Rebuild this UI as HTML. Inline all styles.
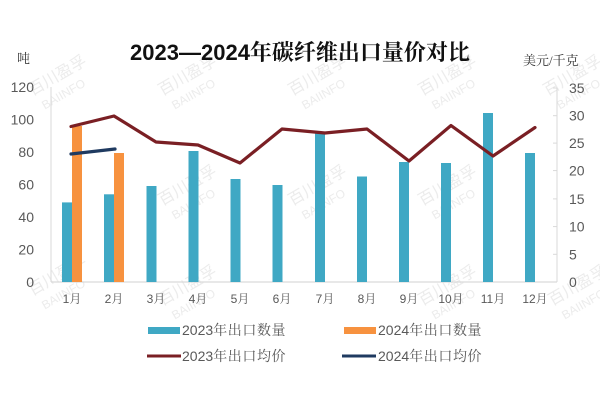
<!DOCTYPE html>
<html><head><meta charset="utf-8"><style>
html,body{margin:0;padding:0;background:#fff;}
svg{display:block;}
</style></head><body>
<svg width="600" height="400" viewBox="0 0 600 400" xmlns="http://www.w3.org/2000/svg">
<rect width="600" height="400" fill="#fff"/>
<!-- watermarks -->
<g fill="#ececec" font-family="'Liberation Sans','Noto Sans CJK SC',sans-serif">
  <g transform="translate(60,80) rotate(-30)"><text x="-32" y="0" font-size="16">百川盈孚</text><text x="-28" y="18" font-size="12">BAIINFO</text></g>
  <g transform="translate(190,80) rotate(-30)"><text x="-32" y="0" font-size="16">百川盈孚</text><text x="-28" y="18" font-size="12">BAIINFO</text></g>
  <g transform="translate(320,80) rotate(-30)"><text x="-32" y="0" font-size="16">百川盈孚</text><text x="-28" y="18" font-size="12">BAIINFO</text></g>
  <g transform="translate(450,80) rotate(-30)"><text x="-32" y="0" font-size="16">百川盈孚</text><text x="-28" y="18" font-size="12">BAIINFO</text></g>
  <g transform="translate(575,80) rotate(-30)"><text x="-32" y="0" font-size="16">百川盈孚</text><text x="-28" y="18" font-size="12">BAIINFO</text></g>
  <g transform="translate(60,280) rotate(-30)"><text x="-32" y="0" font-size="16">百川盈孚</text><text x="-28" y="18" font-size="12">BAIINFO</text></g>
  <g transform="translate(190,190) rotate(-30)"><text x="-32" y="0" font-size="16">百川盈孚</text><text x="-28" y="18" font-size="12">BAIINFO</text></g>
  <g transform="translate(320,190) rotate(-30)"><text x="-32" y="0" font-size="16">百川盈孚</text><text x="-28" y="18" font-size="12">BAIINFO</text></g>
  <g transform="translate(450,190) rotate(-30)"><text x="-32" y="0" font-size="16">百川盈孚</text><text x="-28" y="18" font-size="12">BAIINFO</text></g>
  <g transform="translate(190,290) rotate(-30)"><text x="-32" y="0" font-size="16">百川盈孚</text><text x="-28" y="18" font-size="12">BAIINFO</text></g>
  <g transform="translate(450,290) rotate(-30)"><text x="-32" y="0" font-size="16">百川盈孚</text><text x="-28" y="18" font-size="12">BAIINFO</text></g>
  <g transform="translate(580,290) rotate(-30)"><text x="-32" y="0" font-size="16">百川盈孚</text><text x="-28" y="18" font-size="12">BAIINFO</text></g>
</g>

<!-- title -->
<text x="300" y="60" text-anchor="middle" font-size="22" font-weight="bold" fill="#111" font-family="'Liberation Sans','Noto Serif CJK SC',serif">2023—2024年碳纤维出口量价对比</text>

<!-- axis unit labels -->
<text x="17" y="63" font-size="13" fill="#333" font-family="'Liberation Serif','Noto Serif CJK SC',serif">吨</text>
<text x="523" y="65" font-size="13" fill="#333" font-family="'Liberation Serif','Noto Serif CJK SC',serif">美元/千克</text>

<!-- axes -->
<line x1="51" y1="87" x2="51" y2="282" stroke="#d9d9d9" stroke-width="1"/>
<line x1="557" y1="88" x2="557" y2="282" stroke="#d9d9d9" stroke-width="1"/>
<line x1="51" y1="282" x2="557" y2="282" stroke="#d9d9d9" stroke-width="1.2"/>
<g stroke="#d9d9d9" stroke-width="1">
  <line x1="553" y1="88" x2="557" y2="88"/>
  <line x1="553" y1="115.7" x2="557" y2="115.7"/>
  <line x1="553" y1="143.1" x2="557" y2="143.1"/>
  <line x1="553" y1="170.6" x2="557" y2="170.6"/>
  <line x1="553" y1="198.9" x2="557" y2="198.9"/>
  <line x1="553" y1="226.6" x2="557" y2="226.6"/>
  <line x1="553" y1="254.3" x2="557" y2="254.3"/>
</g>

<!-- left labels -->
<g font-size="14" fill="#595959" font-family="'Liberation Sans',sans-serif" text-anchor="end">
  <text x="34" y="92">120</text>
  <text x="34" y="124.5">100</text>
  <text x="34" y="157">80</text>
  <text x="34" y="189.5">60</text>
  <text x="34" y="222">40</text>
  <text x="34" y="254.5">20</text>
  <text x="34" y="287">0</text>
</g>
<!-- right labels -->
<g font-size="14" fill="#595959" font-family="'Liberation Sans',sans-serif">
  <text x="569" y="93">35</text>
  <text x="569" y="120.7">30</text>
  <text x="569" y="148.1">25</text>
  <text x="569" y="175.6">20</text>
  <text x="569" y="203.9">15</text>
  <text x="569" y="231.6">10</text>
  <text x="569" y="259.3">5</text>
  <text x="569" y="287">0</text>
</g>

<!-- blue bars (2023 quantity) -->
<g fill="#3fa8c4">
  <rect x="62" y="202.4" width="10" height="79.6"/>
  <rect x="104" y="194.3" width="10" height="87.7"/>
  <rect x="146.5" y="186" width="10" height="96"/>
  <rect x="188.5" y="151" width="10" height="131"/>
  <rect x="230.5" y="179" width="10" height="103"/>
  <rect x="272.5" y="185" width="10" height="97"/>
  <rect x="315" y="133" width="10" height="149"/>
  <rect x="357" y="176.5" width="10" height="105.5"/>
  <rect x="399" y="162" width="10" height="120"/>
  <rect x="441" y="163" width="10" height="119"/>
  <rect x="483" y="113" width="10" height="169"/>
  <rect x="525" y="153" width="10" height="129"/>
</g>
<!-- orange bars (2024 quantity) -->
<g fill="#f7923f">
  <rect x="72" y="126" width="10" height="156"/>
  <rect x="114" y="153" width="10" height="129"/>
</g>

<!-- 2023 price line -->
<polyline fill="none" stroke="#7a1f24" stroke-width="3.2" stroke-linejoin="round" stroke-linecap="round"
  points="71,126.5 114,116 156,142 198,145 240,163 282,129 325,133 367,129 409,161 451,125.5 493,156 535,127.5"/>
<!-- 2024 price line -->
<polyline fill="none" stroke="#1f3a60" stroke-width="3.2" stroke-linecap="round"
  points="71,154 115,149"/>

<!-- month labels -->
<g font-size="12" fill="#595959" font-family="'Liberation Sans','Noto Serif CJK SC',serif" text-anchor="middle">
  <text x="72" y="303">1月</text>
  <text x="114" y="303">2月</text>
  <text x="156" y="303">3月</text>
  <text x="198" y="303">4月</text>
  <text x="240" y="303">5月</text>
  <text x="282" y="303">6月</text>
  <text x="325" y="303">7月</text>
  <text x="367" y="303">8月</text>
  <text x="409" y="303">9月</text>
  <text x="451" y="303">10月</text>
  <text x="493" y="303">11月</text>
  <text x="535" y="303">12月</text>
</g>

<!-- legend -->
<rect x="148" y="327" width="32" height="7" fill="#3fa8c4"/>
<rect x="344" y="327" width="32" height="7" fill="#f7923f"/>
<line x1="147" y1="356" x2="181" y2="356" stroke="#7a1f24" stroke-width="3"/>
<line x1="342" y1="356" x2="376" y2="356" stroke="#1f3a60" stroke-width="3"/>
<g font-size="14" fill="#595959" font-family="'Liberation Sans','Noto Serif CJK SC',serif">
  <text x="182" y="335">2023<tspan letter-spacing="0.6">年出口数量</tspan></text>
  <text x="378" y="335">2024<tspan letter-spacing="0.6">年出口数量</tspan></text>
  <text x="182" y="361">2023<tspan letter-spacing="0.6">年出口均价</tspan></text>
  <text x="378" y="361">2024<tspan letter-spacing="0.6">年出口均价</tspan></text>
</g>
</svg>
</body></html>
